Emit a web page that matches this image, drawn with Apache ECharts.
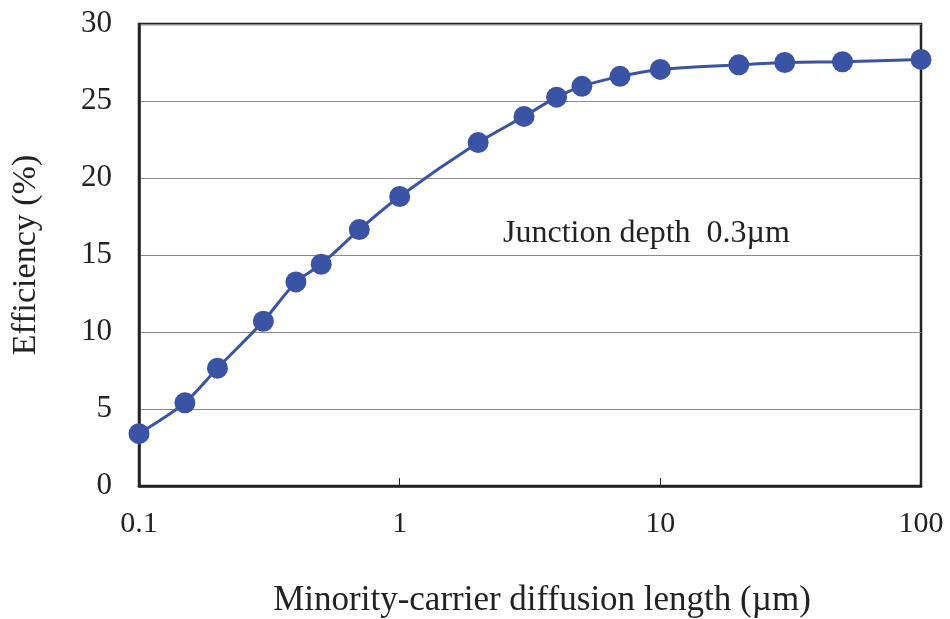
<!DOCTYPE html>
<html>
<head>
<meta charset="utf-8">
<script src="https://cdn.jsdelivr.net/npm/echarts@6/dist/echarts.min.js"></script>
<style>html,body{margin:0;padding:0;background:#fff}#c{width:950px;height:619px}</style>
</head>
<body>
<div id="c"></div>
<script>
const diffusionLength = [0.1, 0.15, 0.2, 0.3, 0.4, 0.5, 0.7, 1, 2, 3, 4, 5, 7, 10, 20, 30, 50, 100];
const efficiency = [3.4, 5.4, 7.65, 10.7, 13.25, 14.4, 16.65, 18.8, 22.3, 24.0, 25.25, 25.95, 26.6, 27.05, 27.35, 27.5, 27.55, 27.7];
const yTicks = [0, 5, 10, 15, 20, 25, 30];
const xTicks = [0.1, 1, 10, 100];
const xTitle = 'Minority-carrier diffusion length (µm)';
const yTitle = 'Efficiency (%)';
const note = 'Junction depth  0.3µm';

const font = '"Liberation Serif", "Times New Roman", serif';
const chart = echarts.init(document.getElementById('c'), null, {renderer: 'canvas'});
chart.setOption({
  backgroundColor: '#ffffff',
  animation: false,
  grid: {left: 139, right: 29, top: 24, bottom: 133, outerBoundsMode: 'none', containLabel: false,
    show: true, borderColor: '#222', borderWidth: 2.5, backgroundColor: 'transparent'},
  xAxis: {
    type: 'log', logBase: 10, min: xTicks[0], max: xTicks[xTicks.length - 1],
    name: xTitle, nameLocation: 'middle', nameGap: 97,
    nameTextStyle: {fontFamily: font, fontSize: 35, color: '#222', padding: [0, 0, 0, 24]},
    axisLine: {show: true, lineStyle: {color: '#222', width: 2.5}},
    axisTick: {show: true, inside: true, length: 8, lineStyle: {color: '#222', width: 1}},
    axisLabel: {fontFamily: font, fontSize: 30, color: '#222', margin: 23,
      formatter: v => String(xTicks.find(t => Math.abs(t - v) / t < 1e-6) ?? v)},
    splitLine: {show: false},
    minorTick: {show: false}
  },
  yAxis: {
    type: 'value', min: yTicks[0], max: yTicks[yTicks.length - 1], interval: 5,
    name: yTitle, nameLocation: 'middle', nameGap: 96, nameRotate: 90,
    nameTextStyle: {fontFamily: font, fontSize: 34, color: '#222'},
    axisLine: {show: true, lineStyle: {color: '#222', width: 2.5}},
    axisTick: {show: false},
    axisLabel: {fontFamily: font, fontSize: 31, color: '#222', margin: 27},
    splitLine: {show: true, lineStyle: {color: '#8a8a8a', width: 1.2}}
  },
  graphic: [{
    type: 'text', left: 503, top: 218, z: 10,
    style: {text: note, font: '32px ' + font, fill: '#222'}
  }],
  series: [{
    type: 'line',
    data: diffusionLength.map((x, i) => [x, efficiency[i]]),
    smooth: 0.25,
    symbol: 'circle', symbolSize: 21,
    lineStyle: {color: '#3a53a4', width: 3},
    itemStyle: {color: '#3a53a4'},
    z: 5
  }]
});
</script>
</body>
</html>
